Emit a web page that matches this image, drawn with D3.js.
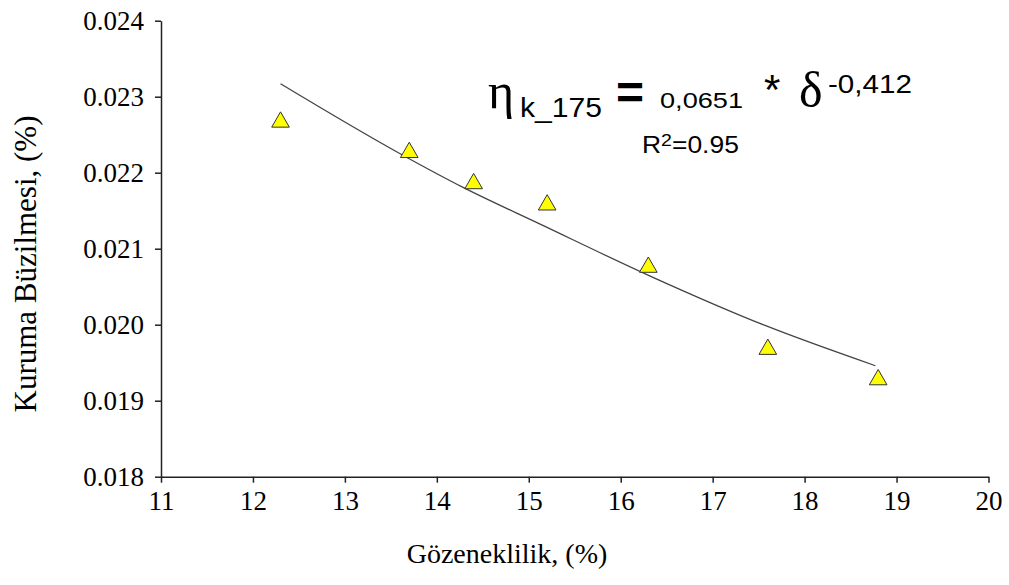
<!DOCTYPE html>
<html lang="tr">
<head>
<meta charset="UTF-8">
<title>Kuruma Büzilmesi - Gözeneklilik</title>
<style>
    body { margin: 0; background: #fff; }
    svg { display: block; }
    .axis path, .axis line { stroke: #222; stroke-width: 1.5px; }
    .axis text { font-family: "Liberation Serif", "Times New Roman", serif; font-size: 27px; fill: #000; }
    .title { font-family: "Liberation Serif", "Times New Roman", serif; fill: #000; }
    .eq { font-family: "Liberation Sans", Arial, sans-serif; fill: #000; }
    .greek { font-family: "Liberation Serif", "Times New Roman", serif; fill: #000; }
</style>
</head>
<body>
<div id="chart"></div>
<script src="https://d3js.org/d3.v7.min.js"></script>
<script>
// measured points (porosity %, drying shrinkage %)
const porosity  = [12.3, 13.7, 14.4, 15.2, 16.3, 17.6, 18.8];
const shrinkage = [0.0227, 0.0223, 0.02189, 0.02161, 0.02079, 0.01971, 0.01931];

// power trendline
const trendX = [12.3, 13.63, 14.28, 15.13, 16.32, 17.57, 18.77];
const trendY = [0.02317, 0.02223, 0.02181, 0.02132, 0.02064, 0.01999, 0.01946];

const xTicks = [11, 12, 13, 14, 15, 16, 17, 18, 19, 20];
const yTicks = [0.018, 0.019, 0.020, 0.021, 0.022, 0.023, 0.024];

const width = 1009, height = 585;

const svg = d3.select("#chart").append("svg")
    .attr("width", width)
    .attr("height", height);

const x = d3.scaleLinear().domain([11, 20]).range([161, 988.5]);
const y = d3.scaleLinear().domain([0.018, 0.024]).range([476.7, 20.7]);

// axes
svg.append("g")
    .attr("class", "axis")
    .attr("transform", `translate(0,${y(0.018)})`)
    .call(d3.axisBottom(x).tickValues(xTicks).tickSize(6).tickSizeOuter(0).tickPadding(8).tickFormat(d3.format("d")));

svg.append("g")
    .attr("class", "axis")
    .attr("transform", `translate(${x(11)},0)`)
    .call(d3.axisLeft(y).tickValues(yTicks).tickSize(6).tickSizeOuter(0).tickPadding(11).tickFormat(d3.format(".3f")));

// axis titles
svg.append("text")
    .attr("class", "title")
    .attr("font-size", 28)
    .attr("x", 507)
    .attr("y", 563)
    .attr("text-anchor", "middle")
    .text("Gözeneklilik, (%)");

svg.append("text")
    .attr("class", "title")
    .attr("font-size", 31)
    .attr("transform", "translate(36,264) rotate(-90)")
    .attr("text-anchor", "middle")
    .text("Kuruma Büzilmesi, (%)");

// trendline
const trend = trendX.map((d, i) => [d, trendY[i]]);
svg.append("path")
    .datum(trend)
    .attr("fill", "none")
    .attr("stroke", "#444")
    .attr("stroke-width", 1.3)
    .attr("d", d3.line().x(d => x(d[0])).y(d => y(d[1])).curve(d3.curveMonotoneX));

// triangle markers (centered on their box like the original)
const triSize = 135;
const triH = Math.sqrt(triSize * 4 / Math.sqrt(3)) * Math.sqrt(3) / 2;
svg.append("g")
    .selectAll("path")
    .data(porosity.map((d, i) => [d, shrinkage[i]]))
    .join("path")
    .attr("d", d3.symbol().type(d3.symbolTriangle).size(triSize))
    .attr("transform", d => `translate(${x(d[0])},${y(d[1]) + triH / 6})`)
    .attr("fill", "#ffff00")
    .attr("stroke", "#333")
    .attr("stroke-width", 1);

// equation (text is a bit wide in the original, so stretch to the measured width)
const eq = svg.append("g");
eq.append("text").attr("class", "greek").attr("x", 488).attr("y", 108).attr("font-size", 50).text("η");
eq.append("text").attr("class", "eq").attr("x", 520).attr("y", 117).attr("font-size", 28)
    .attr("textLength", 82).attr("lengthAdjust", "spacingAndGlyphs").text("k_175");
eq.append("text").attr("class", "eq").attr("x", 616).attr("y", 109).attr("font-size", 48).attr("font-weight", "bold").text("=");
eq.append("text").attr("class", "eq").attr("x", 660).attr("y", 108).attr("font-size", 22)
    .attr("textLength", 83).attr("lengthAdjust", "spacingAndGlyphs").text("0,0651");
eq.append("text").attr("class", "eq").attr("x", 764).attr("y", 104).attr("font-size", 42).text("*");
eq.append("text").attr("class", "greek").attr("x", 799).attr("y", 107).attr("font-size", 50).text("δ");
eq.append("text").attr("class", "eq").attr("x", 828).attr("y", 93).attr("font-size", 25)
    .attr("textLength", 84).attr("lengthAdjust", "spacingAndGlyphs").text("-0,412");

const r2 = eq.append("text").attr("class", "eq")
    .attr("transform", "translate(642,153) scale(1.15,1)")
    .attr("font-size", 23);
r2.append("tspan").text("R");
r2.append("tspan").attr("font-size", 17).attr("dy", -7).text("2");
r2.append("tspan").attr("dy", 7).text("=0.95");
</script>
</body>
</html>
